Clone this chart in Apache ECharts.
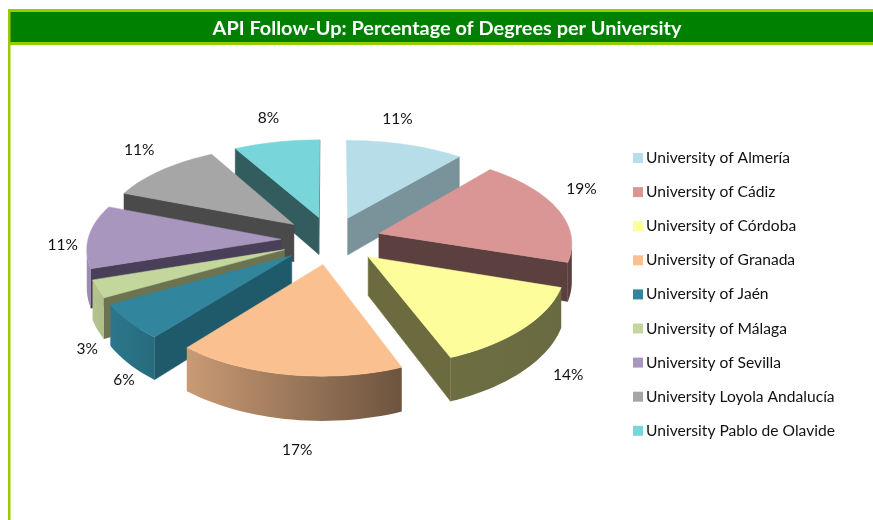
<!DOCTYPE html>
<html><head><meta charset="utf-8">
<style>html,body{margin:0;padding:0;background:#fff}#c{width:873px;height:520px}</style>
<script src="https://cdn.jsdelivr.net/npm/echarts@6/dist/echarts.min.js"></script>
</head><body><div id="c"></div>
<script>
const universities = ['University of Almería','University of Cádiz','University of Córdoba','University of Granada','University of Jaén','University of Málaga','University of Sevilla','University Loyola Andalucía','University Pablo de Olavide'];
const percentages = [11,19,14,17,6,3,11,11,8];
const topColors = ['#B7DEE8','#D99694','#FDFD9B','#FAC090','#31859C','#C3D69B','#A996BE','#A6A6A6','#78D6DA'];
const wallColors = ['#7A929A','#5C403F','#6B6B3F','#6B5140','#1F5A6B','#6B7350','#4A3F58','#4A4A4A','#335C5F'];
const labelNudgeX = [-8,24,45,9,-5,-10,-26,-22,-8];
const labelNudgeY = [-26,-20,46,75,58,60,9,-20,-24];

const view = {cx:331, cy:240, a:193, b:92, k:0.12, kx:0.09, h:38, explode:0.26};
const total = percentages.reduce((s,v)=>s+v,0);
const rad = d => d*Math.PI/180;
let acc = 0;
const spans = percentages.map(v=>{const s=acc/total*360; acc+=v; return [s,acc/total*360];});

function project(X,Z){const s=1/(1-view.k*Z), sx=1/(1-view.kx*Z);return [view.cx+view.a*X*sx, view.cy+view.b*Z*s, s];}
function shade(hex,f){const n=parseInt(hex.slice(1),16);const c=[n>>16,(n>>8)&255,n&255].map(x=>Math.round(x*f));return 'rgb('+c.join(',')+')';}
function wallShade(t){return Math.max(.42,Math.min(.95,.57-.366*Math.sin(rad(t))));}

function renderSlice(i,value,params,api){
  const span=spans[i], start=span[0], end=start+value/total*360, mid=(start+end)/2;
  const ox=view.explode*Math.sin(rad(mid)), oz=-view.explode*Math.cos(rad(mid));
  const P=(r,t)=>project(ox+r*Math.sin(rad(t)),oz-r*Math.cos(rad(t)));
  const down=p=>[p[0],p[1]+view.h*p[2]];
  const apex=P(0,0), rim=[]; const n=Math.max(6,Math.round((end-start)/2));
  for(let j=0;j<=n;j++) rim.push(P(1,start+(end-start)*j/n));
  const kids=[];
  const wall=(p,q)=>({type:'polygon',shape:{points:[p.slice(0,2),q.slice(0,2),down(q),down(p)]},style:{fill:wallColors[i],stroke:wallColors[i],lineWidth:.5}});
  if(rim[0][0]<apex[0]-3) kids.push(wall(apex,rim[0]));
  if(apex[0]<rim[n][0]) kids.push(wall(rim[n],apex));
  const vis=[]; for(let j=0;j<n;j++){ if(rim[j+1][0]<rim[j][0]){ if(!vis.length) vis.push(j); vis.push(j+1);} }
  if(vis.length>1){
    const tops=vis.map(j=>rim[j].slice(0,2)), bottoms=vis.map(j=>down(rim[j])).reverse();
    const t0=start+(end-start)*vis[0]/n, t1=start+(end-start)*vis[vis.length-1]/n;
    kids.push({type:'polygon',shape:{points:tops.concat(bottoms)},style:{
      fill:{type:'linear',x:0,y:0,x2:1,y2:0,colorStops:[
        {offset:0,color:shade(topColors[i],wallShade(t1))},
        {offset:1,color:shade(topColors[i],wallShade(t0))}]}}});
  }
  kids.push({type:'polygon',shape:{points:[apex.slice(0,2)].concat(rim.map(p=>p.slice(0,2)))},style:{fill:topColors[i],stroke:topColors[i],lineWidth:.5}});
  const lp=P(1,mid);
  kids.push({type:'text',style:{text:value+'%',x:lp[0]+labelNudgeX[i],y:lp[1]+labelNudgeY[i],align:'center',verticalAlign:'middle',fontFamily:'Lato',fontSize:15.5,fill:'#111'}});
  return {type:'group',children:kids};
}

const rank=percentages.map((v,i)=>i).sort((p,q)=>{
  const m=i=>(spans[i][0]+spans[i][1])/2;
  return Math.cos(rad(m(q)))-Math.cos(rad(m(p)));
});

const chart=echarts.init(document.getElementById('c'),null,{renderer:'canvas'});
chart.setOption({
  animation:false,
  backgroundColor:'#fff',
  title:{text:'API Follow-Up: Percentage of Degrees per University',left:442,top:13,textAlign:'center',
    textStyle:{color:'#fff',fontFamily:'Lato',fontWeight:'bold',fontSize:19.9,lineHeight:22}},
  legend:{orient:'vertical',left:628,top:145,itemWidth:10,itemHeight:10,itemGap:18.1,icon:'rect',
    data:universities,selectedMode:false,
    textStyle:{fontFamily:'Lato',fontSize:15.6,color:'#111',lineHeight:16,padding:[0,0,0,-2]}},
  graphic:[
    {type:'rect',z:-1,shape:{x:8,y:9,width:865,height:36},style:{fill:'#99CC00'}},
    {type:'rect',z:-1,shape:{x:8,y:12,width:865,height:30},style:{fill:'#008000'}},
    {type:'rect',z:-1,shape:{x:8,y:9,width:2.5,height:511},style:{fill:'#99CC00'}}
  ],
  series:universities.map((name,i)=>({
    type:'custom',name,coordinateSystem:'none',z:2+rank.indexOf(i),
    itemStyle:{color:topColors[i]},silent:true,
    data:[percentages[i]],
    renderItem:(params,api)=>renderSlice(i,api.value(0),params,api)
  }))
});
</script></body></html>
